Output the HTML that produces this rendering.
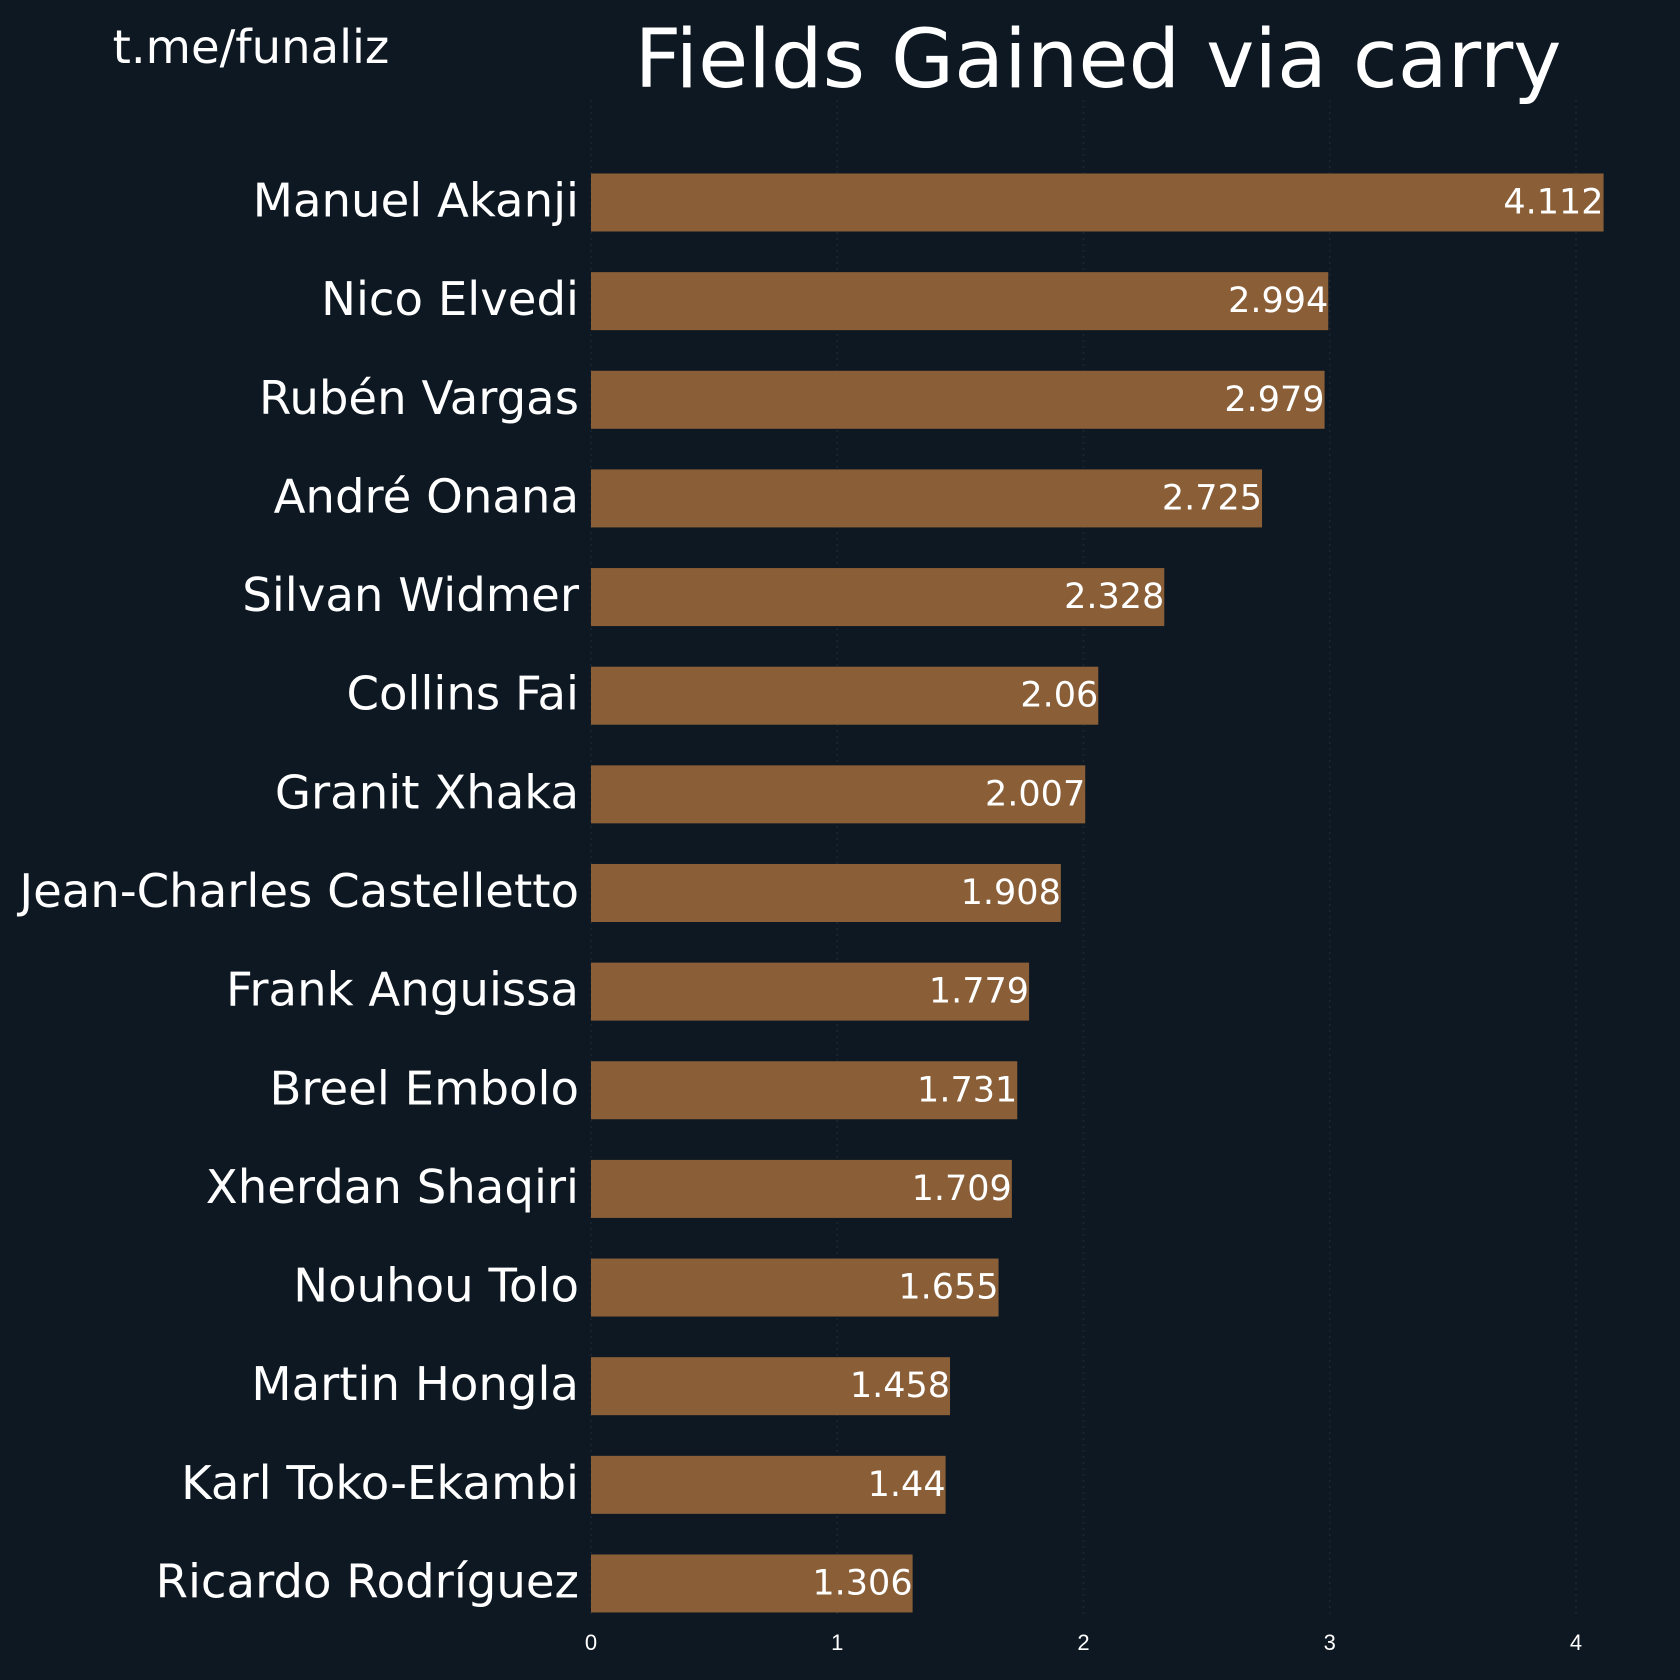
<!DOCTYPE html>
<html><head><meta charset="utf-8"><style>
html,body{margin:0;padding:0;background:#0e1822;}
svg{display:block}
</style></head><body>
<svg id="chart" width="1680" height="1680" xmlns="http://www.w3.org/2000/svg">
<rect width="1680" height="1680" fill="#0e1822"/>
<text x="251" y="63" font-family="DejaVu Sans, sans-serif" font-size="46.5" fill="#ffffff" text-anchor="middle">t.me/funaliz</text>
<text x="1098" y="87" font-family="DejaVu Sans, sans-serif" font-size="81.5" fill="#ffffff" text-anchor="middle">Fields Gained via carry</text>
<g id="grid"></g><g id="bars"></g><g id="ticks"></g>
</svg>
<script>
const categories=["Manuel Akanji","Nico Elvedi","Rubén Vargas","André Onana","Silvan Widmer","Collins Fai","Granit Xhaka","Jean-Charles Castelletto","Frank Anguissa","Breel Embolo","Xherdan Shaqiri","Nouhou Tolo","Martin Hongla","Karl Toko-Ekambi","Ricardo Rodríguez"];
const values=[4.112,2.994,2.979,2.725,2.328,2.06,2.007,1.908,1.779,1.731,1.709,1.655,1.458,1.44,1.306];
const valueLabels=["4.112","2.994","2.979","2.725","2.328","2.06","2.007","1.908","1.779","1.731","1.709","1.655","1.458","1.44","1.306"];
const ticks=[0,1,2,3,4];
const tickLabels=["0","1","2","3","4"];
const NS="http://www.w3.org/2000/svg";
const x=v=>591+v*246.25;
const yc=i=>202.5+i*98.64;
const bh=58;
function mk(t,a,p){const e=document.createElementNS(NS,t);for(const k in a)e.setAttribute(k,a[k]);p.appendChild(e);return e;}
const grid=document.getElementById('grid'),bars=document.getElementById('bars'),tk=document.getElementById('ticks');
ticks.forEach((t,i)=>{
 const l=mk('line',{x1:x(t),x2:x(t),y1:100,y2:1615,stroke:'#1c2631','stroke-width':1.5,'stroke-dasharray':'2,4'},grid);
 
 
 const tx=mk('text',{x:x(t),y:1650,'font-family':'Liberation Sans, sans-serif','font-size':22,fill:'#ffffff','text-anchor':'middle'},tk);
 tx.textContent=tickLabels[i];
 
 
});
categories.forEach((c,i)=>{
 const r=mk('rect',{x:x(0),y:yc(i)-bh/2,width:x(values[i])-x(0),height:bh,fill:'#8a5f38'},bars);
 
 
 const lb=mk('text',{x:579,y:yc(i)+14,'font-family':'DejaVu Sans, sans-serif','font-size':46.6,fill:'#ffffff','text-anchor':'end'},bars);
 lb.textContent=c;
 
 
 const vl=mk('text',{x:x(values[i]),y:yc(i)+11,'font-family':'DejaVu Sans, sans-serif','font-size':35,fill:'#ffffff','text-anchor':'end'},bars);
 vl.textContent=valueLabels[i];
 
 
});
</script>
</body></html>
